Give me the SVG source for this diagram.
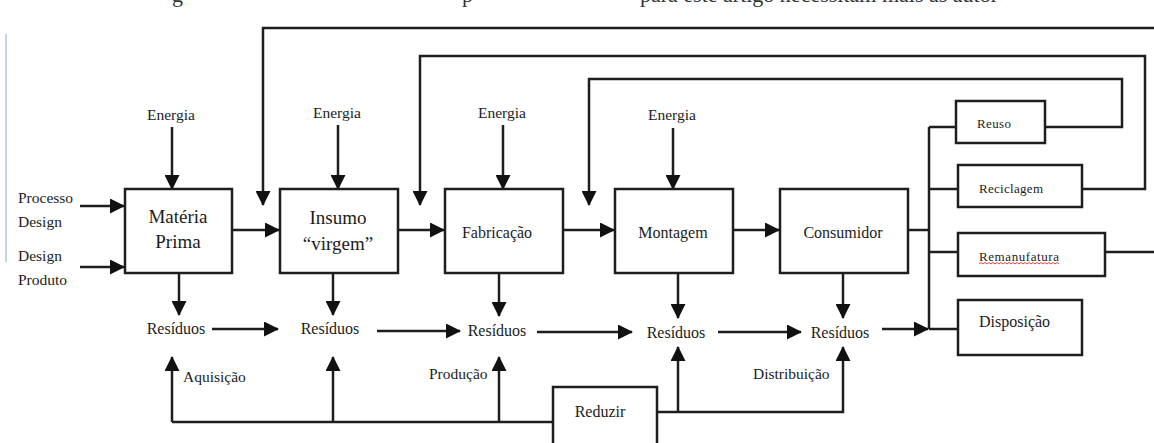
<svg xmlns="http://www.w3.org/2000/svg" width="1154" height="443" viewBox="0 0 1154 443">
<style>
  .box { fill: #ffffff; stroke: #1e1e1e; stroke-width: 2.5; }
  .ln { fill: none; stroke: #1e1e1e; stroke-width: 2.5; }
  .arr { fill: none; stroke: #1e1e1e; stroke-width: 2.5; marker-end: url(#ah); }
  text { font-family: "Liberation Serif", "Times New Roman", serif; fill: #1c1c1c; }
  .big { font-size: 19px; text-anchor: middle; }
  .mid { font-size: 16px; text-anchor: middle; }
  .lbl { font-size: 15.5px; }
  .sm { font-size: 13px; }
  .top { font-size: 22px; fill: #333; }
</style>
<defs>
  <marker id="ah" markerUnits="userSpaceOnUse" markerWidth="15" markerHeight="15" viewBox="0 0 15 15" refX="14" refY="7.5" orient="auto">
    <path d="M0,0 L15,7.5 L0,15 z" fill="#111"/>
  </marker>
</defs>
<rect width="1154" height="443" fill="#ffffff"/>

<!-- cropped text at top -->
<g id="top-text">
  <text class="top" x="172" y="2">g</text>
  <text class="top" x="462" y="2">p</text>
  <text class="top" x="640" y="2">para este artigo necessitam mais as autor</text>
</g>
<line x1="6" y1="34" x2="6" y2="262" stroke="#c5d2ec" stroke-width="2"/>

<g id="connectors">
  <!-- energy inputs -->
  <line class="arr" x1="172" y1="127" x2="172" y2="189"/>
  <line class="arr" x1="338" y1="125" x2="338" y2="189"/>
  <line class="arr" x1="503" y1="125" x2="503" y2="189"/>
  <line class="arr" x1="673" y1="128" x2="673" y2="189"/>
  <!-- design inputs -->
  <line class="arr" x1="80" y1="206" x2="124" y2="206"/>
  <line class="arr" x1="80" y1="267" x2="124" y2="267"/>
  <!-- main chain -->
  <line class="arr" x1="232" y1="230" x2="279" y2="230"/>
  <line class="arr" x1="398" y1="230" x2="444" y2="230"/>
  <line class="arr" x1="563" y1="230" x2="614" y2="230"/>
  <line class="arr" x1="733" y1="230" x2="779" y2="230"/>
  <!-- feedback loops -->
  <polyline class="arr" points="1154,28 263,28 263,205"/>
  <polyline class="arr" points="1082,189 1145,189 1145,56 420,56 420,205"/>
  <polyline class="arr" points="1045,127 1122,127 1122,79 589,79 589,205"/>
  <!-- bus to end-of-life options -->
  <line class="ln" x1="908" y1="230" x2="929" y2="230"/>
  <line class="ln" x1="929" y1="127" x2="929" y2="329"/>
  <line class="ln" x1="929" y1="127" x2="956" y2="127"/>
  <line class="ln" x1="929" y1="189" x2="958" y2="189"/>
  <line class="ln" x1="929" y1="252" x2="958" y2="252"/>
  <line class="ln" x1="929" y1="329" x2="958" y2="329"/>
  <line class="ln" x1="1105" y1="252" x2="1154" y2="252"/>
  <!-- waste down arrows -->
  <line class="arr" x1="179" y1="273" x2="179" y2="315"/>
  <line class="arr" x1="333" y1="273" x2="333" y2="315"/>
  <line class="arr" x1="499" y1="273" x2="499" y2="316"/>
  <line class="arr" x1="678" y1="273" x2="678" y2="318"/>
  <line class="arr" x1="843" y1="273" x2="843" y2="318"/>
  <!-- waste chain -->
  <line class="arr" x1="212" y1="329" x2="278" y2="329"/>
  <line class="arr" x1="377" y1="331" x2="460" y2="331"/>
  <line class="arr" x1="537" y1="332" x2="632" y2="332"/>
  <line class="arr" x1="718" y1="332" x2="801" y2="332"/>
  <line class="arr" x1="882" y1="329" x2="928" y2="329"/>
  <!-- reduce feedback -->
  <line class="ln" x1="172" y1="422" x2="553" y2="422"/>
  <line class="arr" x1="172" y1="422" x2="172" y2="357"/>
  <line class="arr" x1="333" y1="422" x2="333" y2="357"/>
  <line class="arr" x1="499" y1="422" x2="499" y2="357"/>
  <polyline class="arr" points="657,412 843,412 843,347"/>
  <line class="arr" x1="678" y1="412" x2="678" y2="347"/>
</g>

<g id="energia-labels">
  <text class="lbl" x="147" y="120">Energia</text>
  <text class="lbl" x="313" y="118">Energia</text>
  <text class="lbl" x="478" y="118">Energia</text>
  <text class="lbl" x="648" y="120">Energia</text>
</g>

<g id="design-labels">
  <text class="lbl" x="18" y="203">Processo</text>
  <text class="lbl" x="18" y="227">Design</text>
  <text class="lbl" x="18" y="261">Design</text>
  <text class="lbl" x="18" y="285">Produto</text>
</g>

<g id="materia-prima">
  <rect class="box" x="125" y="189" width="107" height="84"/>
  <text class="big" x="178" y="223">Matéria</text>
  <text class="big" x="178" y="248">Prima</text>
</g>
<g id="insumo">
  <rect class="box" x="280" y="189" width="118" height="84"/>
  <text class="big" x="338" y="224">Insumo</text>
  <text class="big" x="338" y="250">“virgem”</text>
</g>
<g id="fabricacao">
  <rect class="box" x="445" y="189" width="118" height="84"/>
  <text class="mid" x="497" y="238">Fabricação</text>
</g>
<g id="montagem">
  <rect class="box" x="615" y="189" width="118" height="84"/>
  <text class="mid" x="673" y="238">Montagem</text>
</g>
<g id="consumidor">
  <rect class="box" x="780" y="189" width="128" height="84"/>
  <text class="mid" x="843" y="238">Consumidor</text>
</g>

<g id="reuso">
  <rect class="box" x="956" y="101" width="89" height="42"/>
  <text class="sm" x="977" y="128" textLength="34">Reuso</text>
</g>
<g id="reciclagem">
  <rect class="box" x="958" y="165" width="124" height="42"/>
  <text class="sm" x="979" y="193" textLength="64">Reciclagem</text>
</g>
<g id="remanufatura">
  <rect class="box" x="958" y="233" width="147" height="43"/>
  <text class="sm" x="979" y="261" textLength="80">Remanufatura</text>
  <path d="M979,264 l2,-1.5 l2,1.5 l2,-1.5 l2,1.5 l2,-1.5 l2,1.5 l2,-1.5 l2,1.5 l2,-1.5 l2,1.5 l2,-1.5 l2,1.5 l2,-1.5 l2,1.5 l2,-1.5 l2,1.5 l2,-1.5 l2,1.5 l2,-1.5 l2,1.5 l2,-1.5 l2,1.5 l2,-1.5 l2,1.5 l2,-1.5 l2,1.5 l2,-1.5 l2,1.5 l2,-1.5 l2,1.5 l2,-1.5 l2,1.5 l2,-1.5 l2,1.5 l2,-1.5 l2,1.5 l2,-1.5 l2,1.5 l2,-1.5 l2,1.5" fill="none" stroke="#e04040" stroke-width="1"/>
</g>
<g id="disposicao">
  <rect class="box" x="958" y="300" width="124" height="55"/>
  <text class="mid" x="979" y="327" style="text-anchor:start">Disposição</text>
</g>

<g id="residuos">
  <text class="mid" x="176" y="334">Resíduos</text>
  <text class="mid" x="330" y="334">Resíduos</text>
  <text class="mid" x="497" y="336">Resíduos</text>
  <text class="mid" x="676" y="338">Resíduos</text>
  <text class="mid" x="840" y="338">Resíduos</text>
</g>

<g id="phase-labels">
  <text class="lbl" x="183" y="382">Aquisição</text>
  <text class="lbl" x="429" y="379">Produção</text>
  <text class="lbl" x="753" y="379">Distribuição</text>
</g>

<g id="reduzir">
  <rect class="box" x="553" y="387" width="104" height="70"/>
  <text class="mid" x="600" y="417">Reduzir</text>
</g>
</svg>
